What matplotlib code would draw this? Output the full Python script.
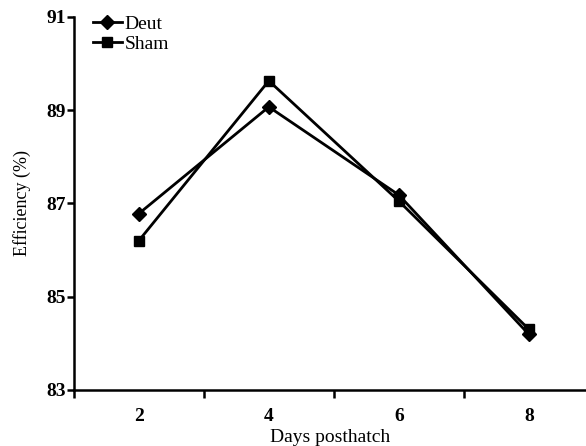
import matplotlib
matplotlib.use('Agg')
import matplotlib.pyplot as plt
from matplotlib.ticker import FixedLocator

days = [2, 4, 6, 8]
deut = [86.78, 89.07, 87.18, 84.19]
sham = [86.20, 89.63, 87.05, 84.30]
yticks = [83, 85, 87, 89, 91]

plt.rcParams['font.family'] = ['Liberation Serif', 'DejaVu Serif']

fig = plt.figure(figsize=(5.86, 4.46), dpi=100)
ax = fig.add_axes([0.126, 0.126, 0.874, 0.836])

ax.plot(days, deut, color='black', lw=2, marker='D', ms=7, label='Deut')
ax.plot(days, sham, color='black', lw=2, marker='s', ms=7, label='Sham')

ax.set_xlim(1, 8.88)
ax.set_ylim(83, 91)
ax.set_yticks(yticks)
ax.set_xticks(days)
ax.xaxis.set_minor_locator(FixedLocator([1, 3, 5, 7]))
ax.tick_params(axis='x', which='major', length=0, pad=13, labelsize=14)
ax.tick_params(axis='x', which='minor', length=6, width=1.8)
ax.tick_params(axis='y', length=5, width=1.8, pad=1, labelsize=14)
for lab in ax.get_xticklabels() + ax.get_yticklabels():
    lab.set_fontweight('bold')

for s in ['top', 'right']:
    ax.spines[s].set_visible(False)
for s in ['left', 'bottom']:
    ax.spines[s].set_linewidth(1.8)

ax.set_xlabel('Days posthatch', fontsize=14, labelpad=3)
ax.set_ylabel('Efficiency (%)', fontsize=13, labelpad=11)

ax.legend(loc='upper left', bbox_to_anchor=(0.01, 1.04), frameon=False,
          fontsize=14, handlelength=1.5, handletextpad=0.15, labelspacing=0.1,
          borderpad=0.2)

fig.savefig('out.png', dpi=100)
